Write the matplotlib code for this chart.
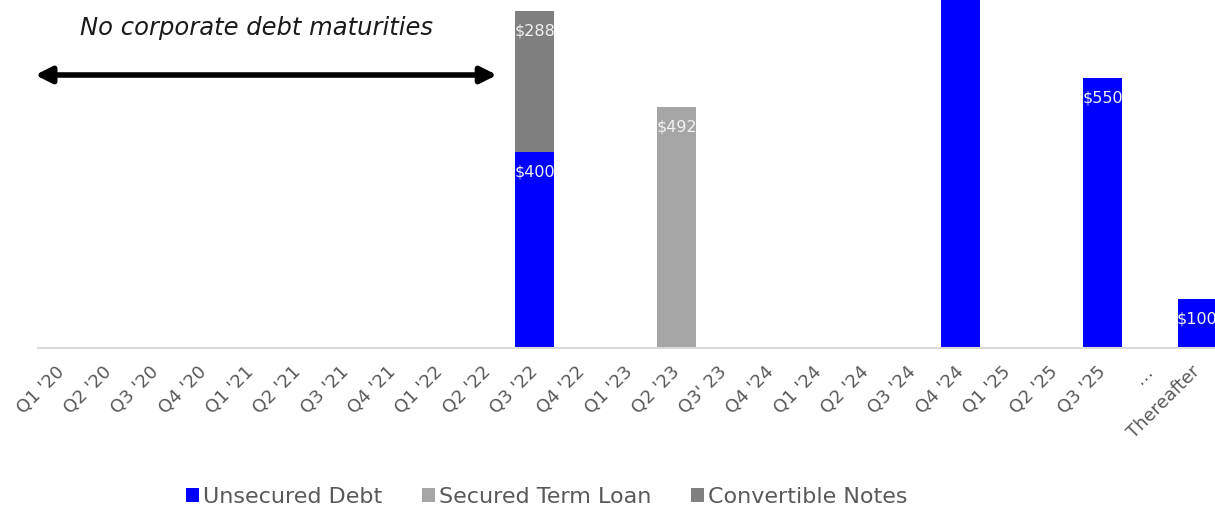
import matplotlib.pyplot as plt
import numpy as np

# quarters on the x axis (labels kept as in the source slide)
quarters = ["Q1 '20", "Q2 '20", "Q3 '20", "Q4 '20",
            "Q1 '21", "Q2 '21", "Q3 '21", "Q4 '21",
            "Q1 '22", "Q2 '22", "Q3 '22", "Q4 '22",
            "Q1 '23", "Q2 '23", "Q3' 23",
            "Q4 '24", "Q1 '24", "Q2 '24", "Q3 '24", "Q4 '24",
            "Q1 '25", "Q2 '25", "Q3 '25", "…", "Thereafter"]

# maturities, $M
unsecured = [0, 0, 0, 0, 0, 0, 0, 0, 0, 0, 400, 0, 0, 0, 0, 0, 0, 0, 0, 800, 0, 0, 550, 0, 100]
secured = [0, 0, 0, 0, 0, 0, 0, 0, 0, 0, 0, 0, 0, 492, 0, 0, 0, 0, 0, 0, 0, 0, 0, 0, 0]
convertible = [0, 0, 0, 0, 0, 0, 0, 0, 0, 0, 288, 0, 0, 0, 0, 0, 0, 0, 0, 0, 0, 0, 0, 0, 0]

c_uns = '#0000FF'
c_sec = '#A5A5A5'
c_cnv = '#7F7F7F'
tcol = '#595959'
fnt = 'DejaVu Sans'

fig = plt.figure(figsize=(12.15, 5.08), dpi=100)
ax = fig.add_axes([38/1215, 160/508, 1183/1215, 348/508])

x = np.arange(len(quarters))
uns = np.array(unsecured)
sec = np.array(secured)
cnv = np.array(convertible)
w = 0.83

ax.bar(x, uns, w, color=c_uns, label='Unsecured Debt')
ax.bar(x, sec, w, bottom=uns, color=c_sec, label='Secured Term Loan')
ax.bar(x, cnv, w, bottom=uns + sec, color=c_cnv, label='Convertible Notes')

# value labels just inside the top of each segment
for vals, base in [(uns, 0 * uns), (sec, uns), (cnv, uns + sec)]:
    for i in range(len(x)):
        if vals[i] > 0:
            ax.annotate('$' + str(vals[i]), (x[i], base[i] + vals[i]),
                        xytext=(0, -20), textcoords='offset pixels',
                        ha='center', va='center', color='#F2F2F2',
                        fontsize=11.5, family=fnt, annotation_clip=True,
                        clip_on=True)

ax.set_xlim(-0.5, len(quarters) - 0.5)
ax.set_ylim(0, 710)

for s in ['top', 'right', 'left']:
    ax.spines[s].set_visible(False)
ax.spines['bottom'].set_color('#D9D9D9')
ax.spines['bottom'].set_linewidth(1.5)
ax.set_yticks([])
ax.set_xticks(x)
ax.set_xticklabels(quarters, rotation=45, ha='right', va='center',
                   rotation_mode='anchor', color=tcol, fontsize=13, family=fnt)
ax.tick_params(axis='x', length=0, pad=15)

# arrow + note over the quiet period
ax.annotate('', xy=(-0.56, 557), xytext=(9.2, 557),
            arrowprops=dict(arrowstyle='<|-|>', color='black', lw=4,
                            mutation_scale=24, shrinkA=0, shrinkB=0),
            annotation_clip=False)
ax.text(0.39, 653, 'No corporate debt maturities', style='italic',
        fontsize=17.5, color='#1a1a1a', family=fnt, ha='left', va='center')

leg = fig.legend(loc='center', bbox_to_anchor=(547/1215, 1 - 497/508), ncol=3,
                 frameon=False, fontsize=16, handlelength=0.55, handleheight=0.55,
                 handletextpad=0.2, columnspacing=1.8)
for t in leg.get_texts():
    t.set_color(tcol)
    t.set_family(fnt)

fig.savefig('out.png', dpi=100)
